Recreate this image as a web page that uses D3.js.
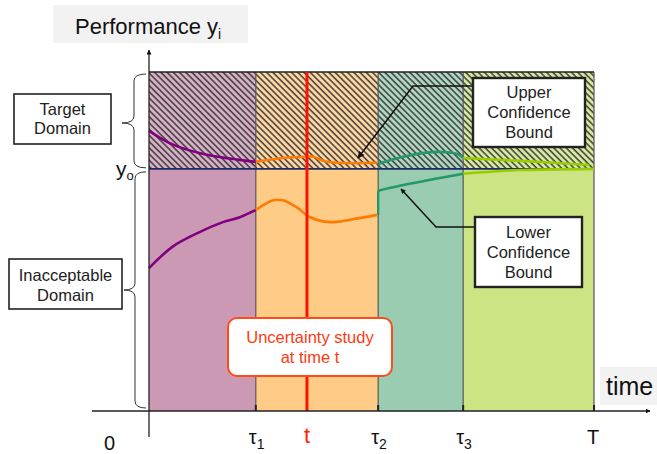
<!DOCTYPE html>
<html>
<head>
<meta charset="utf-8">
<script src="https://cdn.jsdelivr.net/npm/d3@7"></script>
<style>
  body { margin: 0; background: #fff; }
  svg { display: block; font-family: "Liberation Sans", Arial, sans-serif; }
</style>
</head>
<body>
<svg id="chart" width="657" height="454"></svg>
<script>
// phases along time axis (0..T = 10)
const boundaries = [0, 2.4, 5.15, 7.06, 10];
const phaseColors = ["#cc99b5", "#ffcc88", "#99ccb1", "#cde485"];
const lineColors = ["#800080", "#ff7a00", "#229966", "#99cc00"];
const tickTimes = [2.4, 5.15, 7.06, 10];
const tickNames = [["τ", "1"], ["τ", "2"], ["τ", "3"], ["T", ""]];
const tStudy = 3.55;
const y0Value = 1.0;
const yTop = 1.4;

// lower confidence bound, one piece per phase: [time, performance]
const lower1 = [[0, 0.59], [0.54, 0.68], [1.15, 0.74], [1.66, 0.78], [2.04, 0.80], [2.4, 0.83]];
const lower2 = [[2.4, 0.83], [2.79, 0.87], [3.01, 0.87], [3.33, 0.84], [3.62, 0.80], [4.07, 0.78], [4.52, 0.79], [5.12, 0.81]];
const lower3 = [[5.15, 0.81], [5.15, 0.91], [5.64, 0.93], [6.47, 0.96], [7.06, 0.98]];
const lower4 = [[7.06, 0.98], [7.8, 0.99], [8.34, 0.995], [10, 1.0]];
// upper confidence bound
const upper1 = [[0, 1.157], [0.54, 1.10], [1.3, 1.058], [2.04, 1.037], [2.4, 1.029]];
const upper2 = [[2.4, 1.029], [3.01, 1.045], [3.55, 1.05], [3.69, 1.05], [4.0, 1.029], [5.12, 1.025]];
const upper3 = [[5.15, 1.02], [5.71, 1.05], [6.47, 1.07], [6.94, 1.06], [7.06, 1.045]];
const upper4 = [[7.06, 1.045], [8.34, 1.033], [9.9, 1.016]];

const svg = d3.select("#chart");
const x = d3.scaleLinear().domain([0, 10]).range([149, 594]);
const y = d3.scaleLinear().domain([0, yTop]).range([411, 72]);

const defs = svg.append("defs");
const pat = defs.append("pattern")
  .attr("id", "hatch")
  .attr("patternUnits", "userSpaceOnUse")
  .attr("width", 4.4).attr("height", 4.4)
  .attr("patternTransform", "rotate(-45)");
pat.append("rect").attr("width", 4.4).attr("height", 4.4).attr("fill", "#fff").attr("opacity", 0.25);
pat.append("line").attr("x1", 1).attr("y1", 0).attr("x2", 1).attr("y2", 4.4)
  .attr("stroke", "#2a2a2a").attr("stroke-width", 1.6).attr("opacity", 0.85);

["arrow", "arrowSmall"].forEach((id, i) => {
  defs.append("marker").attr("id", id)
    .attr("viewBox", "0 -5 10 10").attr("refX", 9).attr("refY", 0)
    .attr("markerWidth", i ? 5 : 7).attr("markerHeight", i ? 5 : 7)
    .attr("markerUnits", "userSpaceOnUse").attr("orient", "auto")
    .append("path").attr("d", "M0,-5L10,0L0,5Z").attr("fill", "#111");
});

// title boxes
svg.append("rect").attr("x", 53).attr("y", 5).attr("width", 195).attr("height", 38).attr("fill", "#f2f2f2");
const ttl = svg.append("text").attr("x", 75).attr("y", 34).attr("font-size", 22).attr("fill", "#111");
ttl.append("tspan").text("Performance y");
ttl.append("tspan").attr("dy", 5).attr("font-size", 14).text("i");

svg.append("rect").attr("x", 600).attr("y", 367).attr("width", 57).attr("height", 38).attr("fill", "#f2f2f2");
svg.append("text").attr("x", 606).attr("y", 395).attr("font-size", 25).attr("fill", "#111").text("time");

// phase backgrounds
const phases = d3.range(4);
svg.selectAll("rect.phase").data(phases).enter().append("rect")
  .attr("class", "phase")
  .attr("x", i => x(boundaries[i]))
  .attr("y", y(yTop))
  .attr("width", i => x(boundaries[i + 1]) - x(boundaries[i]))
  .attr("height", y(0) - y(yTop))
  .attr("fill", i => phaseColors[i]);

// hatch over target domain
svg.append("rect")
  .attr("x", x(0)).attr("y", y(yTop))
  .attr("width", x(10) - x(0)).attr("height", y(y0Value) - y(yTop))
  .attr("fill", "url(#hatch)");

// phase borders
svg.selectAll("line.border").data(boundaries.slice(1)).enter().append("line")
  .attr("x1", d => x(d)).attr("x2", d => x(d))
  .attr("y1", y(yTop)).attr("y2", y(0))
  .attr("stroke", "#555").attr("stroke-width", 1.2);

svg.append("line").attr("x1", x(0)).attr("x2", x(10)).attr("y1", y(yTop)).attr("y2", y(yTop))
  .attr("stroke", "#222").attr("stroke-width", 1.3);
svg.append("line").attr("x1", x(0)).attr("x2", x(10)).attr("y1", y(y0Value)).attr("y2", y(y0Value))
  .attr("stroke", "#1a2a66").attr("stroke-width", 1.8);

// confidence bounds
const line = d3.line().x(d => x(d[0])).y(d => y(d[1])).curve(d3.curveCatmullRom);
const lineLin = d3.line().x(d => x(d[0])).y(d => y(d[1])).curve(d3.curveLinear);
const pieces = [
  [upper1, 0], [upper2, 1], [upper3, 2], [upper4, 3],
  [lower1, 0], [lower2, 1], [lower4, 3]
];
pieces.forEach(([pts, c]) => {
  svg.append("path").attr("d", line(pts))
    .attr("fill", "none").attr("stroke", lineColors[c]).attr("stroke-width", 2.6);
});
// teal lower: vertical jump then curve
svg.append("path").attr("d", lineLin(lower3.slice(0, 2)))
  .attr("fill", "none").attr("stroke", lineColors[2]).attr("stroke-width", 2.4);
svg.append("path").attr("d", line(lower3.slice(1)))
  .attr("fill", "none").attr("stroke", lineColors[2]).attr("stroke-width", 2.6);

// study time line
svg.append("line").attr("x1", x(tStudy)).attr("x2", x(tStudy))
  .attr("y1", y(yTop)).attr("y2", y(0))
  .attr("stroke", "#ff1100").attr("stroke-width", 3);

// axes
svg.append("line").attr("x1", 92).attr("x2", 650).attr("y1", y(0)).attr("y2", y(0))
  .attr("stroke", "#222").attr("stroke-width", 1.3).attr("marker-end", "url(#arrowSmall)");
svg.append("line").attr("x1", x(0)).attr("x2", x(0)).attr("y1", 437).attr("y2", 50)
  .attr("stroke", "#222").attr("stroke-width", 1.3).attr("marker-end", "url(#arrowSmall)");

svg.selectAll("line.tick").data(tickTimes).enter().append("line")
  .attr("x1", d => x(d)).attr("x2", d => x(d)).attr("y1", y(0) - 6).attr("y2", y(0))
  .attr("stroke", "#222").attr("stroke-width", 2);

const tl = svg.selectAll("text.tick").data(tickTimes).enter().append("text")
  .attr("x", d => x(d) - 7).attr("y", 444).attr("font-size", 20).attr("fill", "#111");
tl.append("tspan").text((d, i) => tickNames[i][0]);
tl.append("tspan").attr("dy", 5).attr("font-size", 14).text((d, i) => tickNames[i][1]);
svg.append("text").attr("x", 104).attr("y", 450).attr("font-size", 20).attr("fill", "#111").text("0");
svg.append("text").attr("x", x(tStudy)).attr("y", 443).attr("text-anchor", "middle")
  .attr("font-size", 22).attr("fill", "#ff2200").text("t");

// y0 label
const y0l = svg.append("text").attr("x", 116).attr("y", y(y0Value) + 7).attr("font-size", 21).attr("fill", "#111");
y0l.append("tspan").text("y");
y0l.append("tspan").attr("dy", 4).attr("font-size", 13).text("o");

// braces
function brace(xr, xs, xt, y1, y2, ym) {
  const r = 7;
  return `M${xr},${y1} Q${xs},${y1} ${xs},${y1 + r} L${xs},${ym - r} Q${xs},${ym} ${xt},${ym}` +
    ` Q${xs},${ym} ${xs},${ym + r} L${xs},${y2 - r} Q${xs},${y2} ${xr},${y2}`;
}
svg.append("path").attr("d", brace(146, 134, 122, y(yTop) + 2, y(y0Value) - 1, 123))
  .attr("fill", "none").attr("stroke", "#333").attr("stroke-width", 1);
svg.append("path").attr("d", brace(146, 135, 124, y(y0Value) + 3, y(0) - 3, 290))
  .attr("fill", "none").attr("stroke", "#333").attr("stroke-width", 1);

// labelled boxes
function box(bx, by, w, h, lines, baselines, fs, sw) {
  svg.append("rect").attr("x", bx).attr("y", by).attr("width", w).attr("height", h)
    .attr("fill", "#fff").attr("stroke", "#222").attr("stroke-width", sw);
  lines.forEach((t, i) => {
    svg.append("text").attr("x", bx + w / 2).attr("y", baselines[i]).attr("text-anchor", "middle")
      .attr("font-size", fs).attr("fill", "#222").text(t);
  });
}
box(14, 94, 97, 50, ["Target", "Domain"], [115, 134], 16.5, 1.6);
box(9, 259, 113, 50, ["Inacceptable", "Domain"], [281, 301], 16.5, 1.6);

svg.append("polyline").attr("points", "473,86 413,86 358,158")
  .attr("fill", "none").attr("stroke", "#111").attr("stroke-width", 1.5).attr("marker-end", "url(#arrow)");
svg.append("polyline").attr("points", "475,227 436,227 401,189")
  .attr("fill", "none").attr("stroke", "#111").attr("stroke-width", 1.5).attr("marker-end", "url(#arrowSmall)");

box(473, 78, 112, 69, ["Upper", "Confidence", "Bound"], [98, 118, 138], 16.5, 2.4);
box(475, 217, 107, 70, ["Lower", "Confidence", "Bound"], [238, 258, 278], 16.5, 2.4);

// uncertainty study callout
svg.append("rect").attr("x", 228).attr("y", 318).attr("width", 164).attr("height", 58)
  .attr("rx", 9).attr("fill", "#fff").attr("stroke", "#ff4a1a").attr("stroke-width", 2);
["Uncertainty study", "at time t"].forEach((t, i) => {
  svg.append("text").attr("x", 310).attr("y", [343, 363][i]).attr("text-anchor", "middle")
    .attr("font-size", 16.5).attr("fill", "#ff3a10").text(t);
});
</script>
</body>
</html>
